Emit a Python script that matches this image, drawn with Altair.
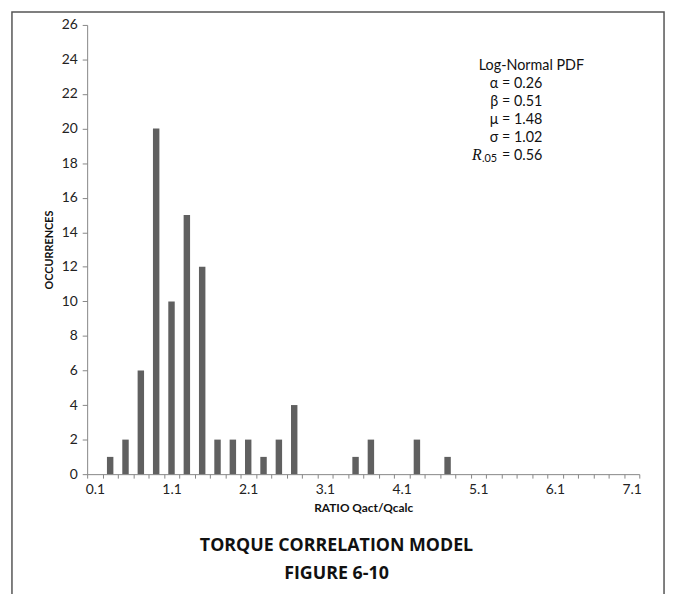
import altair as alt
import pandas as pd

# ---- data ----
ratio_bins = ["0.1", "0.3", "0.5", "0.7", "0.9", "1.1", "1.3", "1.5", "1.7", "1.9",
              "2.1", "2.3", "2.5", "2.7", "2.9", "3.1", "3.3", "3.5", "3.7", "3.9",
              "4.1", "4.3", "4.5", "4.7", "4.9", "5.1", "5.3", "5.5", "5.7", "5.9",
              "6.1", "6.3", "6.5", "6.7", "6.9", "7.1"]
occurrences = [0, 1, 2, 6, 20, 10, 15, 12, 2, 2,
               2, 1, 2, 4, 0, 0, 0, 1, 2, 0,
               0, 2, 0, 1, 0, 0, 0, 0, 0, 0,
               0, 0, 0, 0, 0, 0]
x_tick_labels = ["0.1", "1.1", "2.1", "3.1", "4.1", "5.1", "6.1", "7.1"]
y_ticks = [0, 2, 4, 6, 8, 10, 12, 14, 16, 18, 20, 22, 24, 26]

pdf_title = "Log-Normal PDF"
param_names = ["α", "β", "μ", "σ"]
param_values = ["0.26", "0.51", "1.48", "1.02"]
r05_value = "0.56"
figure_title = ["TORQUE CORRELATION MODEL", "FIGURE 6-10"]

W, H = 558, 454
AXIS_GRAY = "#868686"
FONT = "Lato"

df = pd.DataFrame({"ratio": ratio_bins, "count": occurrences})

label_list = "[" + ",".join("'" + s + "'" for s in x_tick_labels) + "]"

bars = alt.Chart(df).mark_bar(color="#606060", width={"band": 0.42}).encode(
    x=alt.X("ratio:O", sort=ratio_bins,
            scale=alt.Scale(paddingInner=0, paddingOuter=0),
            axis=alt.Axis(title="RATIO Qact/Qcalc", tickBand="extent", labelAngle=0,
                          labelExpr=f"indexof({label_list}, datum.label) >= 0 ? datum.label : ''",
                          labelOverlap=False, labelPadding=5, tickSize=4,
                          domainColor=AXIS_GRAY, tickColor=AXIS_GRAY, labelColor="#222",
                          labelFont=FONT, labelFontSize=14,
                          titleFont=FONT, titleFontSize=12, titleFontWeight="bold",
                          titlePadding=6, titleColor="#111")),
    y=alt.Y("count:Q", scale=alt.Scale(domain=[0, 26], nice=False),
            axis=alt.Axis(title="OCCURRENCES", values=y_ticks, grid=False,
                          tickSize=5, labelPadding=5,
                          domainColor=AXIS_GRAY, tickColor=AXIS_GRAY, labelColor="#222",
                          labelFont=FONT, labelFontSize=14,
                          titleFont=FONT, titleFontSize=11, titleFontWeight="bold",
                          titlePadding=7, titleColor="#111")),
)

one = alt.Data(values=[{}])


def text_layer(txt, x, y, size=14.5, align="center", font=FONT, weight="normal",
               style="normal", baseline="middle"):
    return alt.Chart(one).mark_text(
        text=txt, align=align, baseline=baseline, font=font, fontSize=size,
        fontWeight=weight, fontStyle=style, color="#111"
    ).encode(x=alt.value(x), y=alt.value(y))


# plot origin in page coords is about (88, 22)
layers = [bars]
layers.append(text_layer(pdf_title, 449, 42))
for i, (n, v) in enumerate(zip(param_names, param_values)):
    layers.append(text_layer(f"{n} = {v}", 460, 60 + 18 * i, align="right"))
layers.append(text_layer(f"= {r05_value}", 460, 60 + 18 * 4, align="right"))
layers.append(text_layer("R", 389, 60 + 18 * 4, size=16, font="Liberation Serif",
                         style="italic", align="left"))
layers.append(text_layer(".05", 399, 64 + 18 * 4, size=11, align="left"))

layers.append(text_layer(figure_title[0], 252, 527, size=18, weight="bold", font="Open Sans"))
layers.append(text_layer(figure_title[1], 252, 555, size=18, weight="bold", font="Open Sans"))

border = alt.Chart(one).mark_rect(fill=None, stroke="#555", strokeWidth=1.5).encode(
    x=alt.value(-76), x2=alt.value(583), y=alt.value(-13), y2=alt.value(640))
layers.append(border)

chart = alt.layer(*layers).properties(
    width=W, height=H,
    autosize=alt.AutoSizeParams(type="none"),
    padding={"left": 80, "top": 14, "right": 28, "bottom": 118},
).configure_view(stroke=None)

chart.save("out.html", embed_options={"renderer": "svg", "actions": False})
